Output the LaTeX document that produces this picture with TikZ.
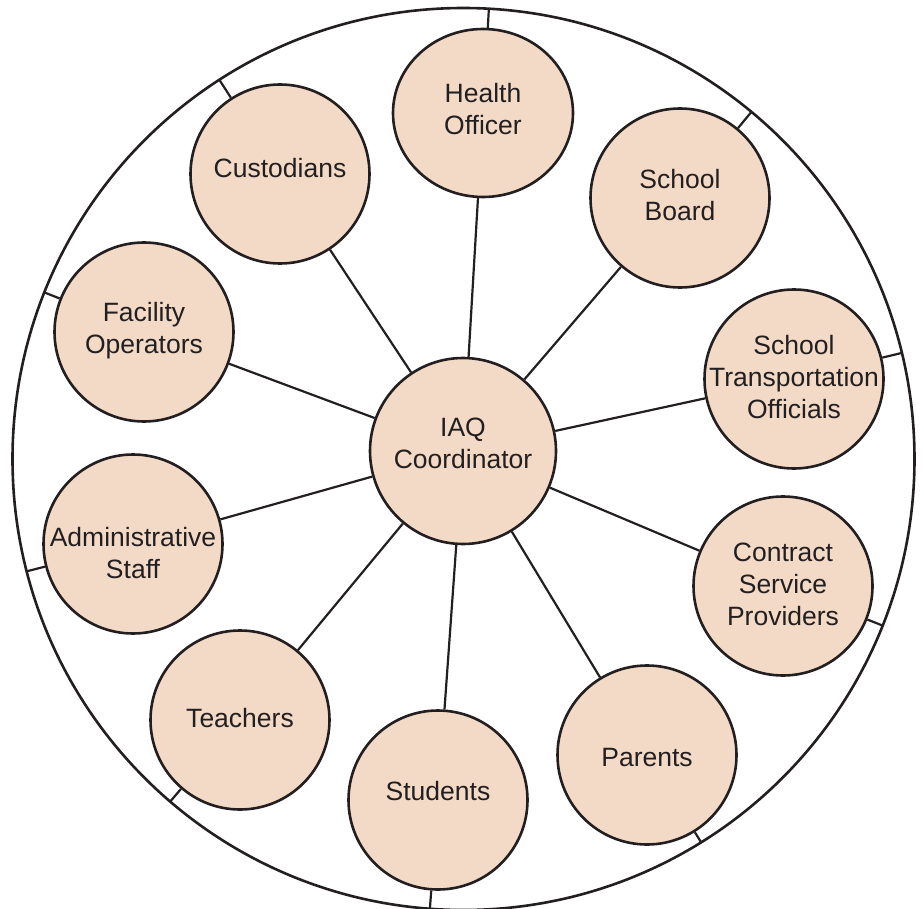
\documentclass[tikz,border=0pt]{standalone}
\usepackage{fontspec}
\setmainfont{Liberation Sans}
\usetikzlibrary{calc,shapes.geometric}
\definecolor{ink}{RGB}{35,31,32}
\definecolor{peach}{RGB}{243,218,199}
\newcommand{\ctext}[2][0pt]{\smash{\makebox[0pt]{\raisebox{#1}{\begin{tabular}{@{}c@{}}#2\end{tabular}}}}}
\begin{document}
\begin{tikzpicture}[x=1pt,y=-1pt,
  bubble/.style={circle,draw=ink,fill=peach,line width=2.6pt,minimum size=179pt,inner sep=0pt,
    text=ink,font=\fontsize{26.5}{32}\selectfont},
  oval/.style={bubble,ellipse,minimum width=180pt,minimum height=168pt},
  spoke/.style={draw=ink,line width=2.2pt},
  rim/.style={draw=ink,line width=2.6pt}]
\useasboundingbox (0,0) rectangle (923,909);
\coordinate (O) at (463.5,459);
\draw[rim] (O) circle (451pt);
\node[bubble,minimum size=186pt] (coord) at (463,451) {\ctext[-1pt]{IAQ\\Coordinator}};
\node[oval] (health) at (483,113) {\ctext[-5pt]{Health\\Officer}};
\node[bubble] (board) at (680,198) {\ctext[-6.5pt]{School\\Board}};
\node[bubble] (trans) at (794,379) {\ctext[-7pt]{School\\Transportation\\Officials}};
\node[bubble] (contract) at (783,586) {\ctext[-7pt]{Contract\\Service\\Providers}};
\node[bubble] (parents) at (647,755) {\ctext[-11pt]{Parents}};
\node[bubble] (students) at (438,800) {\ctext{Students}};
\node[bubble] (teachers) at (240,720) {\ctext[-7pt]{Teachers}};
\node[bubble] (admin) at (133,544) {\ctext[-18pt]{Administrative\\Staff}};
\node[bubble] (facility) at (144,332) {\ctext[-5.5pt]{Facility\\Operators}};
\node[bubble] (cust) at (280,174) {\ctext[-3pt]{Custodians}};
\foreach \n in {health,board,trans,contract,parents,students,teachers,admin,facility,cust}{
  \draw[spoke] (coord) -- (\n);
  \draw[spoke] (\n) -- ($(O)!451pt!(\n)$);
}
\end{tikzpicture}
\end{document}
